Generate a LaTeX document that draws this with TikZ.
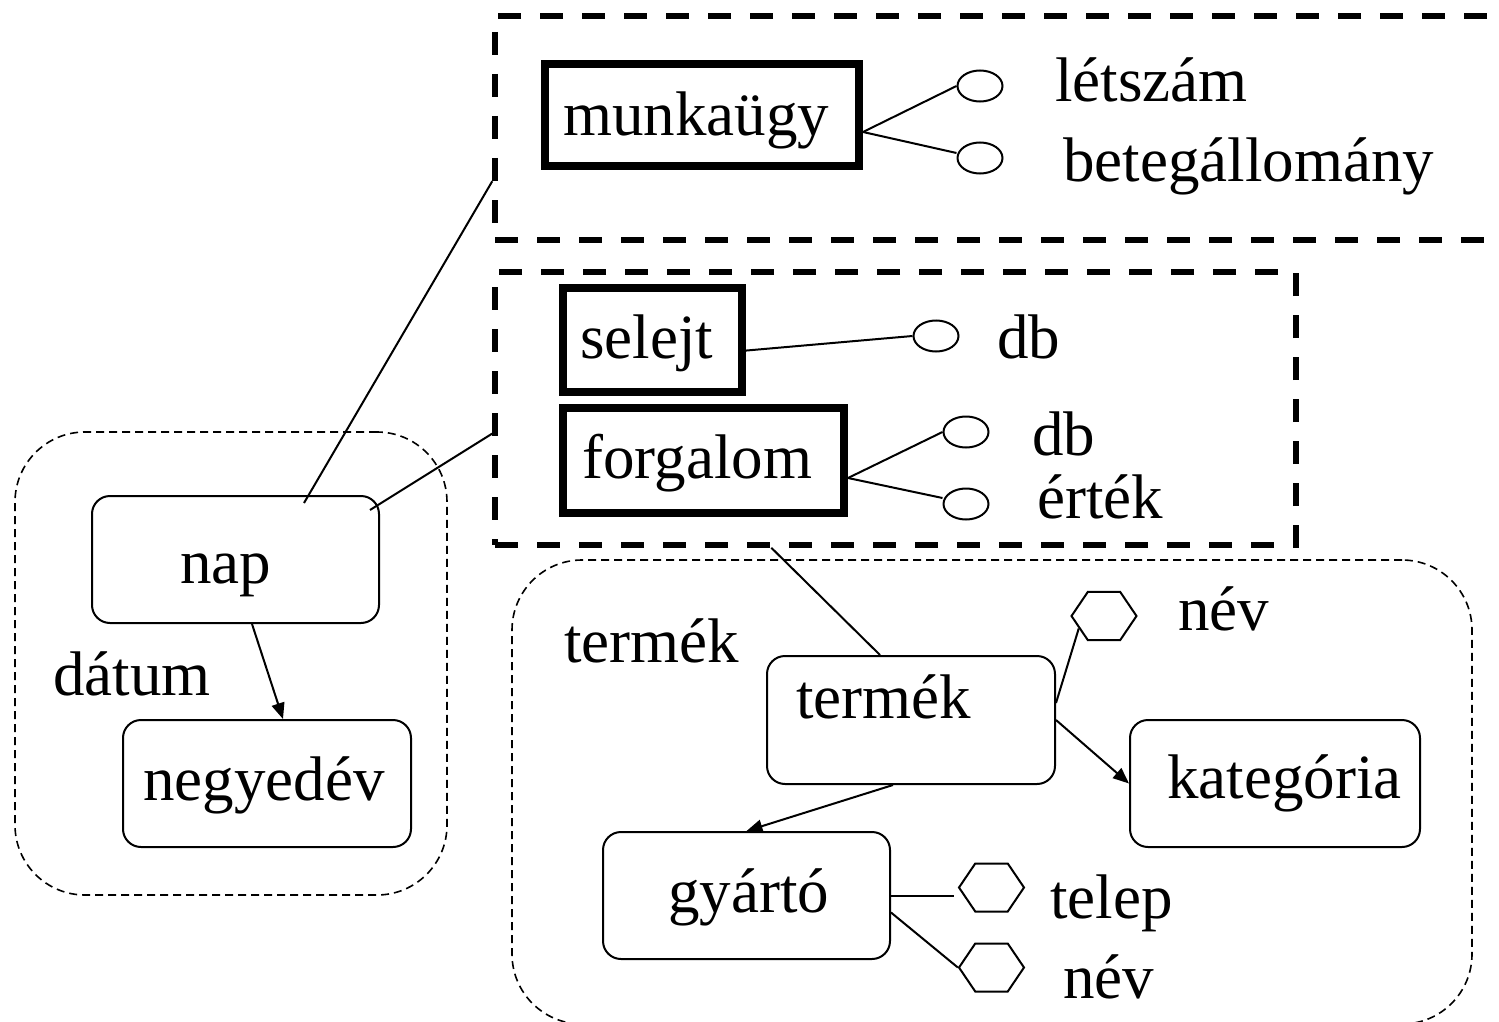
\documentclass[tikz,border=0pt]{standalone}
\usepackage{fontspec}
\setmainfont{Liberation Serif}
\usetikzlibrary{arrows.meta,shapes.geometric,calc}

\begin{document}
\begin{tikzpicture}[x=0.5pt,y=-0.5pt,
  lbl/.style={anchor=base west, inner sep=0pt, font=\fontsize{31.5}{36}\selectfont},
  factgrp/.style={draw, line width=2.75pt, dash pattern=on 11.5pt off 9.5pt, inner sep=0pt},
  dimgrp/.style={draw, line width=0.8pt, dash pattern=on 4pt off 2.5pt, rounded corners=35pt, inner sep=0pt},
  factbox/.style={draw, line width=4pt, inner sep=0pt},
  levelbox/.style={draw, line width=1pt, rounded corners=9pt, inner sep=0pt},
  measure/.style={draw, ellipse, line width=1pt, inner sep=0pt, minimum width=22.5pt, minimum height=15.5pt},
  attrib/.style={draw, regular polygon, regular polygon sides=6, line width=1pt, inner sep=0pt, minimum size=32.5pt},
  link/.style={line width=1pt},
  rollup/.style={line width=1pt, -{Triangle[length=8pt,width=6.5pt]}},
  sz/.style 2 args={minimum width=#1*0.5pt, minimum height=#2*0.5pt}
]
\useasboundingbox (0,0) rectangle (1499,1022);
\clip (0,0) rectangle (1499,1022);

% fact groups (thick dashed frames)
\node[factgrp, sz={1035}{224}] (hrgrp) at (1012.5,128) {};
\node[factgrp, sz={801}{273}] (salesgrp) at (895.5,408.5) {};

% dimension groups (thin dashed rounded frames)
\node[dimgrp, sz={432}{463}] (dategrp) at (231,663.5) {};
\node[dimgrp, sz={960}{464}] (prodgrp) at (992,792) {};

% fact tables
\node[factbox, sz={314}{102}] (munka) at (702,115) {};
\node[factbox, sz={179}{104}] (selejt) at (652.5,340) {};
\node[factbox, sz={281}{105}] (forg) at (703.5,460.5) {};

% dimension levels
\node[levelbox, sz={287}{127}] (nap) at (235.5,559.5) {};
\node[levelbox, sz={288}{127}] (negyedev) at (267,783.5) {};
\node[levelbox, sz={288}{128}] (termek) at (911,720) {};
\node[levelbox, sz={290}{127}] (kategoria) at (1275,783.5) {};
\node[levelbox, sz={287}{127}] (gyarto) at (746.5,895.5) {};

% measures
\node[measure] (letszam) at (980,86) {};
\node[measure] (beteg) at (980,158) {};
\node[measure] (seldb) at (936,336) {};
\node[measure] (fdb) at (966,432) {};
\node[measure] (ertek) at (966,504) {};

% descriptive attributes (flattened hexagons)
\begin{scope}[shift={(1104,616)}, yscale=0.853]
  \node[attrib, transform shape] (hnev1) at (0,0) {};
\end{scope}
\begin{scope}[shift={(991.5,887.5)}, yscale=0.853]
  \node[attrib, transform shape] (htelep) at (0,0) {};
\end{scope}
\begin{scope}[shift={(991.5,967.5)}, yscale=0.853]
  \node[attrib, transform shape] (hnev2) at (0,0) {};
\end{scope}

% texts
\node[lbl] (t-munka) at (563,135) {munkaügy};
\node[lbl] (t-letszam) at (1055,102) {létszám};
\node[lbl] (t-beteg) at (1063,182) {betegállomány};
\node[lbl] (t-selejt) at (580,358) {selejt};
\node[lbl] (t-seldb) at (997,358) {db};
\node[lbl] (t-forg) at (582,478) {forgalom};
\node[lbl] (t-fdb) at (1032,455) {db};
\node[lbl] (t-ertek) at (1037,518) {érték};
\node[lbl] (t-nap) at (180,583) {nap};
\node[lbl] (t-datum) at (53,695) {dátum};
\node[lbl] (t-negyed) at (143,800) {negyedév};
\node[lbl] (t-termekgrp) at (564,662) {termék};
\node[lbl] (t-termek) at (796,718) {termék};
\node[lbl] (t-nev1) at (1178,630) {név};
\node[lbl] (t-kat) at (1167,798) {kategória};
\node[lbl] (t-gyarto) at (668,912) {gyártó};
\node[lbl] (t-telep) at (1050,918) {telep};
\node[lbl] (t-nev2) at (1063,998) {név};

% measures attached to fact tables
\draw[link] ($(munka.east)+(0,17)$) -- (letszam.west);
\draw[link] ($(munka.east)+(0,17)$) -- ($(beteg.west)+(0,-5)$);
\draw[link] ($(selejt.east)+(-5,11)$) -- (seldb.west);
\draw[link] ($(forg.east)+(0,17.5)$) -- (fdb.west);
\draw[link] ($(forg.east)+(0,17.5)$) -- ($(ertek.west)+(0,-6)$);

% fact groups linked to dimensions
\draw[link] ($(nap.north)+(68.5,8)$) -- ($(hrgrp.north west)!0.732!(hrgrp.south west)$);
\draw[link] ($(nap.north east)+(-10,15)$) -- ($(salesgrp.north west)!0.59!(salesgrp.south west)$);
\draw[link] ($(salesgrp.south west)!0.346!(salesgrp.south east)$) -- ($(termek.north)+(-31,0)$);

% hierarchies
\draw[rollup] ($(nap.south)+(16.5,0)$) -- ($(negyedev.north)+(16,0)$);
\draw[rollup] (termek.east) -- (kategoria.west);
\draw[rollup] ($(termek.south)+(-18,0)$) -- (gyarto.north);

% attributes of levels
\draw[link] ($(termek.east)+(0,-17)$) -- (hnev1.210);
\draw[link] ($(gyarto.east)+(0,0.5)$) -- ($(htelep.west)+(-4,8.5)$);
\draw[link] ($(gyarto.east)+(0,17)$) -- (hnev2.west);
\end{tikzpicture}
\end{document}
